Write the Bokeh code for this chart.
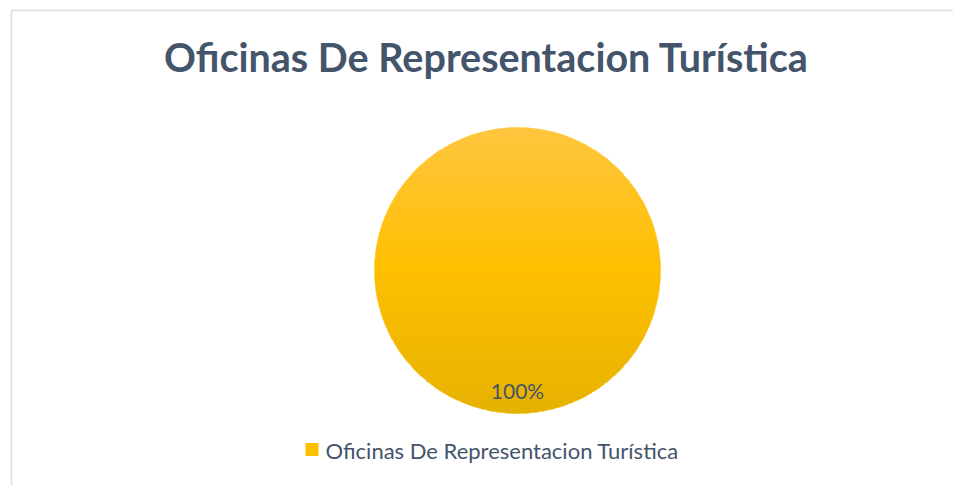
import numpy as np
from bokeh.plotting import figure
from bokeh.models import Range1d, ColumnDataSource
from bokeh.core.properties import value
from bokeh.embed import file_html
from bokeh.resources import INLINE

# ---- data ----
categories = ["Oficinas De Representacion Turística"]
values = [100]
pct_labels = ["100%"]
title_text = "Oficinas De Representacion Turística"

# ---- layout helpers (page pixel -> data units) ----
W, H = 953, 485
def Y(page_y):
    return H - page_y

p = figure(width=W, height=H, output_backend="svg", toolbar_location=None,
           x_range=Range1d(0, W), y_range=Range1d(0, H),
           min_border=0, outline_line_color=None, background_fill_color="white",
           border_fill_color="white")
p.axis.visible = False
p.grid.visible = False

# chart border
p.quad(left=[11], right=[975], bottom=[-20], top=[Y(10)], fill_color=None,
       line_color="#D9DEE8", line_width=1.5)

# pie
cx, cy, r = 517, Y(270), 143
total = float(sum(values))
fr = np.array(values) / total
ends = np.cumsum(fr) * 2 * np.pi
starts = np.concatenate([[0.0], ends[:-1]])
src = ColumnDataSource(dict(cat=categories, start=starts + np.pi / 2, end=ends + np.pi / 2,
                            label=pct_labels))
p.wedge(x=cx, y=cy, radius=r, start_angle="start", end_angle="end", source=src,
        fill_color="#FFC000", line_color=None)

# subtle vertical gradient shading over the slice
n = 2 * r + 2
yy, xx = np.mgrid[0:n, 0:n]
dx = xx - (n - 1) / 2
dy = yy - (n - 1) / 2
inside = (dx ** 2 + dy ** 2) <= r ** 2
t = yy / (n - 1)  # 0 bottom, 1 top
top_c = np.array([255, 198, 64]); mid_c = np.array([255, 192, 0]); bot_c = np.array([230, 178, 0])
img = np.zeros((n, n, 4), dtype=np.uint8)
for k in range(3):
    ch = np.where(t > 0.5, mid_c[k] + (top_c[k] - mid_c[k]) * (t - 0.5) * 2,
                  bot_c[k] + (mid_c[k] - bot_c[k]) * t * 2)
    img[..., k] = ch.astype(np.uint8)
img[..., 3] = np.where(inside, 255, 0)
rgba = img.view(dtype=np.uint32).reshape((n, n))
p.image_rgba(image=[rgba], x=cx - n / 2, y=cy - n / 2, dw=n, dh=n)

# percentage label
lab = ColumnDataSource(dict(x=[cx], y=[Y(390)], text=pct_labels))
p.text(x="x", y="y", text="text", source=lab, text_font=value("Lato"),
       text_font_size="21px", text_color="#44546A", text_align="center",
       text_baseline="alphabetic")

# title
p.text(x=[486], y=[Y(56)], text=[title_text], text_font=value("Lato"),
       text_font_size="39.5px", text_font_style="bold", text_color="#44546A",
       text_align="center", text_baseline="alphabetic")

# legend
p.rect(x=[311.5], y=[Y(449)], width=13, height=13, fill_color="#FFC000", line_color=None)
p.text(x=[325], y=[Y(450)], text=categories, text_font=value("Lato"),
       text_font_size="22px", text_color="#44546A", text_align="left",
       text_baseline="alphabetic")

open("out.html", "w").write(file_html(p, INLINE))
